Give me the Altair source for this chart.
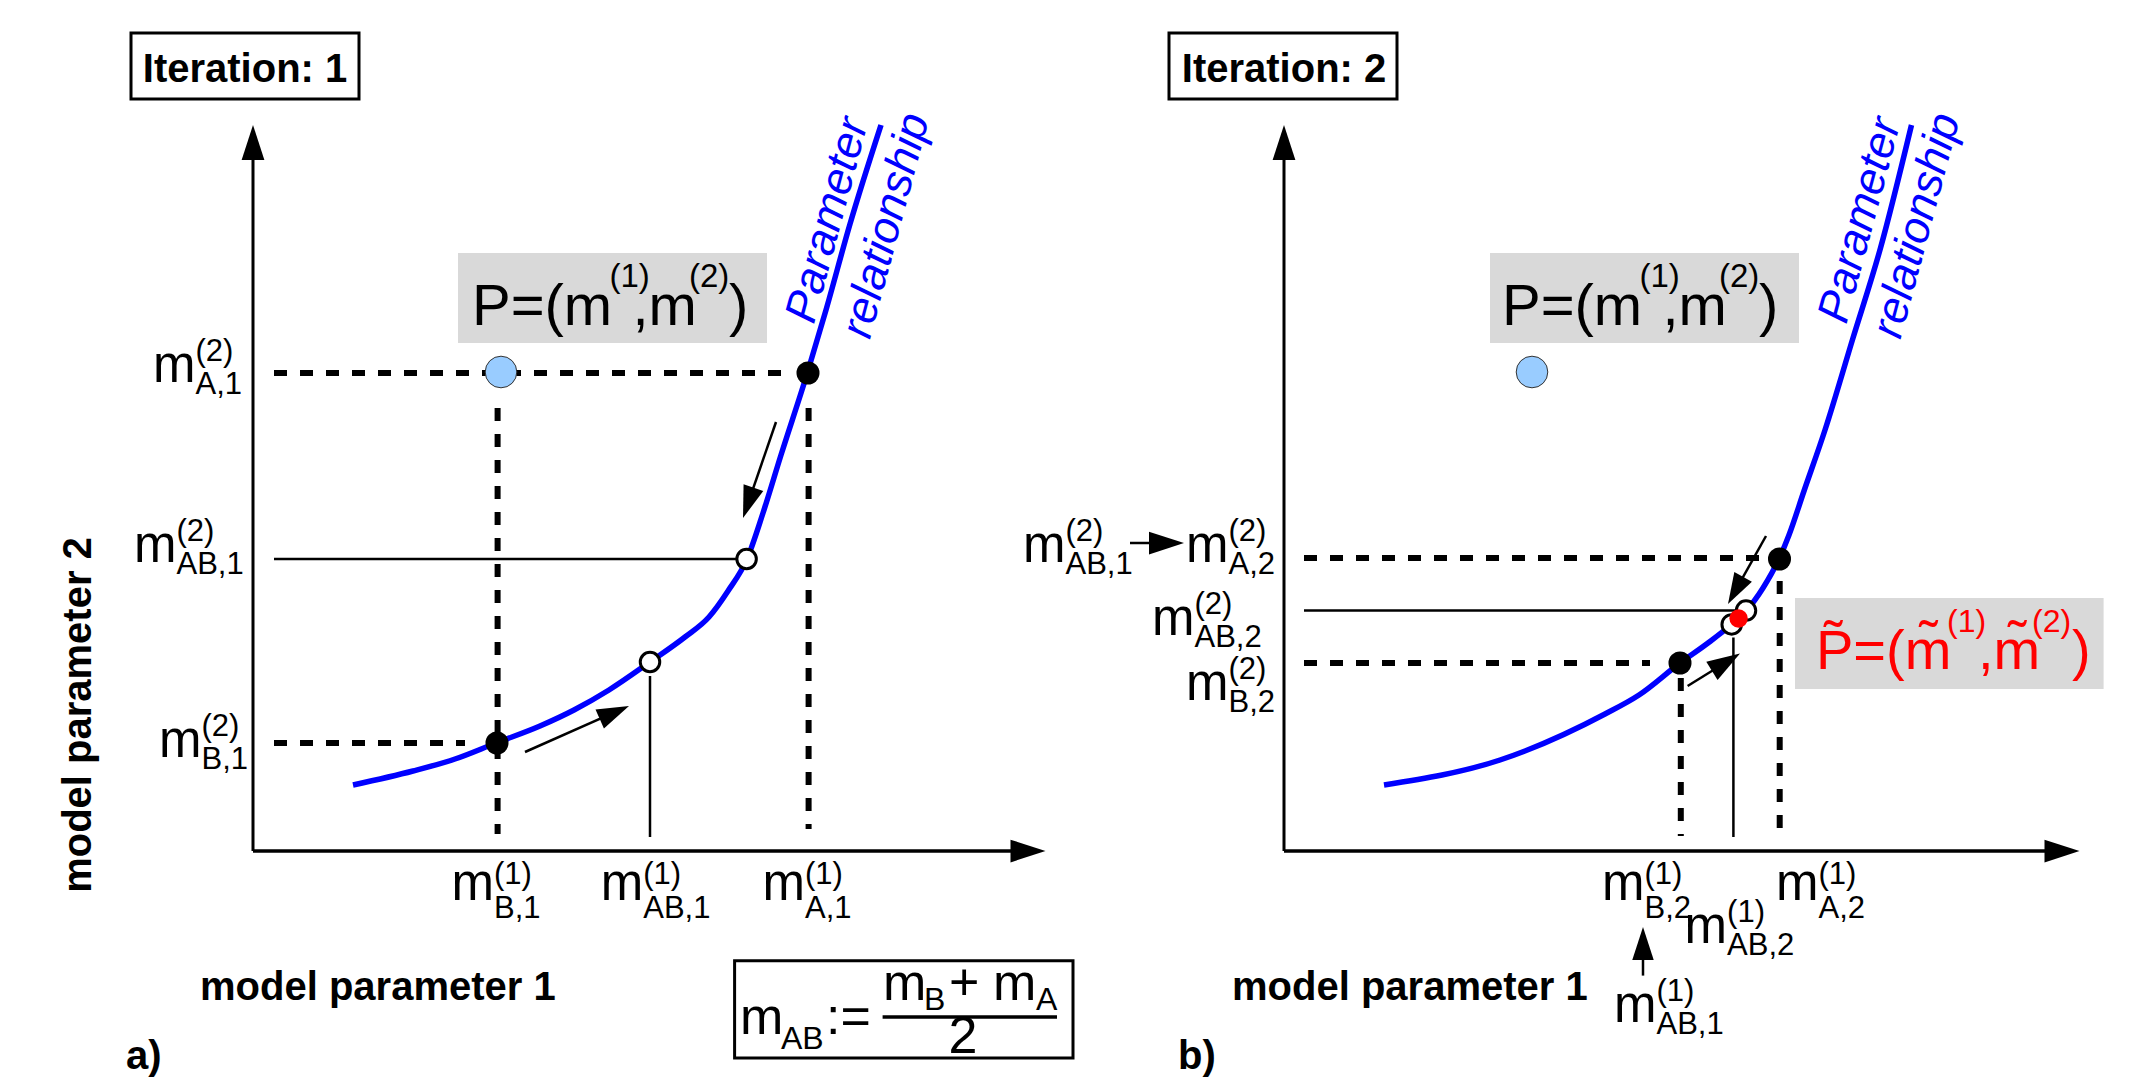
import math
import altair as alt
import pandas as pd

FONT = "Liberation Sans"
BLUE = "#0000ff"
GREY = "#d9d9d9"

# horizontal position of each panel's origin (model parameter space, px units)
PANEL_X = {"a": 0.0, "b": 1031.0}

# ---------------- parameter relationship curves (m1, m2) ----------------
curve_a_m1 = [100, 160, 202, 243, 287, 321, 356, 397, 432, 456, 475, 494, 510, 528, 554, 573, 597, 628]
curve_a_m2 = [66, 80, 92, 108, 125, 141, 161, 189, 214, 234, 260, 292, 338, 396, 477, 541, 627, 726]
curve_b_m1 = [100, 216, 321, 355, 396, 424, 448, 462, 479, 495, 505, 520, 541, 569, 596.5, 627.5]
curve_b_m2 = [66, 91, 137, 156, 188, 208, 227, 240, 263, 292, 316, 360, 421, 513, 603, 726]

# ---------------- points ----------------
pdot_panel = ["a", "b"]
pdot_m1 = [248, 248]
pdot_m2 = [479, 479]

black_panel = ["a", "a", "b", "b"]
black_m1 = [244, 555, 396, 495.5]
black_m2 = [108, 478, 188, 292]

open_panel = ["a", "a", "b", "b"]
open_m1 = [397, 493.6, 462, 447.7]
open_m2 = [189, 292, 240.4, 226.6]

red_panel = ["b"]
red_m1 = [454.6]
red_m2 = [232.5]

# ---------------- guide lines ----------------
dash_panel = ["a", "a", "a", "a", "b", "b", "b", "b"]
dash_x1 = [21, 21, 244.6, 555.6, 20, 20, 396.8, 495.7]
dash_y1 = [478, 108, 443, 443, 293, 188, 173, 270]
dash_x2 = [535, 212, 244.6, 555.6, 476, 366, 396.8, 495.7]
dash_y2 = [478, 108, 17, 22, 293, 188, 15, 15]

solid_panel = ["a", "a", "b", "b", "a"]
solid_x1 = [21, 397, 20, 449.4, 629.6]
solid_y1 = [292, 175, 240.4, 213.5, -166]
solid_x2 = [483, 397, 451, 449.4, 804]
solid_y2 = [292, 14, 240.4, 14, -166]
solid_w = [2.5, 2.5, 2.5, 2.5, 3.5]

# ---------------- arrows (start -> tip) ----------------
arrow_panel = ["a", "a", "a", "a", "b", "b", "b", "b", "b", "b"]
arrow_x0 = [0, 0, 523, 272, 0, 0, 482, 403.6, 359, -154]
arrow_y0 = [0, 0, 429, 99, 0, 0, 315, 165, -124.6, 308]
arrow_x1 = [0, 792.5, 490, 376, 0, 795.5, 444, 456, 359, -100]
arrow_y1 = [726, 0, 333, 145, 726, 0, 247, 197.4, -76, 308]
arrow_head = [35, 35, 32, 32, 35, 35, 31, 33, 33, 35]
arrow_w = [3, 3.4, 2.5, 2.5, 3, 3.4, 2.5, 2.5, 2.5, 2.5]

# ---------------- boxes ----------------
frame_panel = ["a", "b", "a"]
frame_x1 = [-122, -115, 481.6]
frame_x2 = [106, 113, 820]
frame_y1 = [752, 752, -207]
frame_y2 = [818, 818, -109.8]

grey_panel = ["a", "b", "b"]
grey_x1 = [205, 206, 511]
grey_x2 = [514, 515, 819.6]
grey_y1 = [508, 508, 162]
grey_y2 = [598, 598, 253]

# ---------------- tick labels m^(sup)_(sub) ----------------
tick_panel = ["a", "a", "a", "a", "a", "a", "b", "b", "b", "b", "b", "b", "b", "b"]
tick_x = [-100, -119, -94, 198.5, 347.7, 509.5, -261, -98, -132, -98, 318, 492, 400.6, 330]
tick_y = [469, 289, 94, -49, -49, -49, 289, 289, 216, 151, -49, -49, -92, -171]
tick_sup = ["(2)", "(2)", "(2)", "(1)", "(1)", "(1)", "(2)", "(2)", "(2)", "(2)", "(1)", "(1)", "(1)", "(1)"]
tick_sub = ["A,1", "AB,1", "B,1", "B,1", "AB,1", "A,1", "AB,1", "A,2", "AB,2", "B,2", "B,2", "A,2", "AB,2", "AB,1"]
tick_kind = ["side", "side", "side", "axis", "axis", "axis", "side", "side", "side", "side", "axis", "axis", "side", "side"]

# ---------------- point labels P and P~ ----------------
ptext_pieces = ["P=(m", "(1)", ",m", "(2)", ")"]
ptext_dx = [0, 137.5, 160.5, 217, 257]
ptext_dy = [0, 38, 0, 38, 0]
ptext_size = [58, 33, 58, 33, 58]
ptilde_pieces = ["P\u0303=(m\u0303", "(1)", ",m\u0303", "(2)", ")"]
ptilde_dx = [0, 131, 162, 216, 256]
ptilde_dy = [0, 37, 0, 37, 0]
ptilde_size = [56, 32, 56, 32, 56]

# formula m_AB := (m_B + m_A) / 2
formula_text = ["m", "AB", ":=", "m", "B", "+", "m", "A"]
formula_x = [487, 528, 573, 630, 671, 696, 740, 783]
formula_y = [-183, -198, -183, -148.7, -159, -148.7, -148.7, -159]
formula_size = [52, 32, 52, 52, 32, 52, 52, 32]

# ======================================================================
rows_text = []


def add_text(panel, x, y, text, size, color="black", weight="normal",
             style="normal", align="left", baseline="alphabetic", angle=0):
    rows_text.append(dict(gx=x + PANEL_X[panel], y=y, text=text, size=size,
                          color=color, weight=weight, style=style,
                          align=align, baseline=baseline, angle=angle))


SUB_OFF = {"side": (21, -12), "axis": (16, -18)}
for p, x, y, sp, sb, k in zip(tick_panel, tick_x, tick_y, tick_sup, tick_sub, tick_kind):
    up, dn = SUB_OFF[k]
    add_text(p, x, y, "m", 51)
    add_text(p, x + 42.5, y + up, sp, 31)
    add_text(p, x + 42.5, y + dn, sb, 31)

for p, ox in (("a", 219), ("b", 218)):
    for t, dx, dy, s in zip(ptext_pieces, ptext_dx, ptext_dy, ptext_size):
        add_text(p, ox + dx, 526 + dy, t, s)
for t, dx, dy, s in zip(ptilde_pieces, ptilde_dx, ptilde_dy, ptilde_size):
    add_text("b", 532 + dx, 182 + dy, t, s, color="#ff0000")

for t, x, y, s in zip(formula_text, formula_x, formula_y, formula_size):
    add_text("a", x, y, t, s)
add_text("a", 710, -202, "2", 52, align="center")

add_text("a", -8, 769.4, "Iteration: 1", 40, weight="bold", align="center")
add_text("b", 0, 769.4, "Iteration: 2", 40, weight="bold", align="center")
add_text("a", -162, 136, "model parameter 2", 40, weight="bold", align="center", angle=270)
add_text("a", -53, -149, "model parameter 1", 40, weight="bold")
add_text("b", -52, -149, "model parameter 1", 40, weight="bold")
add_text("a", -127, -218, "a)", 40, weight="bold")
add_text("b", -106, -218, "b)", 40, weight="bold")
for p, (x1, y1), (x2, y2) in (("a", (574.5, 631), (633, 625.5)), ("b", (576, 631), (632.6, 625.5))):
    add_text(p, x1, y1, "Parameter", 45, color=BLUE, style="italic", align="center", baseline="middle", angle=285)
    add_text(p, x2, y2, "relationship", 45, color=BLUE, style="italic", align="center", baseline="middle", angle=285)

text_df = pd.DataFrame(rows_text)

curve_df = pd.concat([
    pd.DataFrame({"panel": "a", "m1": curve_a_m1, "m2": curve_a_m2}),
    pd.DataFrame({"panel": "b", "m1": curve_b_m1, "m2": curve_b_m2}),
], ignore_index=True)
curve_df["gx"] = curve_df["m1"] + curve_df["panel"].map(PANEL_X)


def pts(panel, m1, m2):
    d = pd.DataFrame({"panel": panel, "m1": m1, "m2": m2})
    d["gx"] = d["m1"] + d["panel"].map(PANEL_X)
    return d


def segs(panel, x1, y1, x2, y2, w=None):
    d = pd.DataFrame({"panel": panel, "x1": x1, "y1": y1, "x2": x2, "y2": y2})
    d["gx"] = d["x1"] + d["panel"].map(PANEL_X)
    d["gx2"] = d["x2"] + d["panel"].map(PANEL_X)
    if w is not None:
        d["w"] = w
    return d


dash_df = segs(dash_panel, dash_x1, dash_y1, dash_x2, dash_y2)
solid_df = segs(solid_panel, solid_x1, solid_y1, solid_x2, solid_y2, solid_w)
frame_df = segs(frame_panel, frame_x1, frame_y1, frame_x2, frame_y2)
grey_df = segs(grey_panel, grey_x1, grey_y1, grey_x2, grey_y2)

shaft_rows, head_rows = [], []
for p, x0, y0, x1, y1, L, w in zip(arrow_panel, arrow_x0, arrow_y0, arrow_x1, arrow_y1, arrow_head, arrow_w):
    dx, dy = x1 - x0, y1 - y0
    d = math.hypot(dx, dy)
    ux, uy = dx / d, dy / d
    cx, cy = x1 - ux * L / 2, y1 - uy * L / 2
    off = PANEL_X[p]
    shaft_rows.append(dict(gx=x0 + off, y1=y0, gx2=cx + off, y2=cy, w=w))
    head_rows.append(dict(gx=cx + off, m2=cy, ang=math.degrees(math.atan2(dx, dy)) % 360, size=L * L))
shaft_df = pd.DataFrame(shaft_rows)
head_df = pd.DataFrame(head_rows)

xs = alt.Scale(domain=[-245, 1884], nice=False, zero=False)
ys = alt.Scale(domain=[-229, 843], nice=False, zero=False)


def X(f):
    return alt.X(f, type="quantitative", scale=xs, axis=None)


def Y(f):
    return alt.Y(f, type="quantitative", scale=ys, axis=None)


layers = []
layers.append(alt.Chart(grey_df).mark_rect(fill=GREY, strokeWidth=0).encode(
    x=X("gx"), x2="gx2", y=Y("y1"), y2="y2"))
layers.append(alt.Chart(frame_df).mark_rect(fill="white", stroke="black", strokeWidth=3).encode(
    x=X("gx"), x2="gx2", y=Y("y1"), y2="y2"))
layers.append(alt.Chart(dash_df).mark_rule(color="black", strokeWidth=6, strokeDash=[13, 13]).encode(
    x=X("gx"), x2="gx2", y=Y("y1"), y2="y2"))
layers.append(alt.Chart(solid_df).mark_rule(color="black").encode(
    x=X("gx"), x2="gx2", y=Y("y1"), y2="y2", strokeWidth=alt.StrokeWidth("w:Q", scale=None)))
layers.append(alt.Chart(shaft_df).mark_rule(color="black").encode(
    x=X("gx"), x2="gx2", y=Y("y1"), y2="y2", strokeWidth=alt.StrokeWidth("w:Q", scale=None)))
layers.append(alt.Chart(curve_df).mark_line(color=BLUE, strokeWidth=5.5, interpolate="monotone").encode(
    x=X("gx"), y=Y("m2"), detail="panel:N"))
layers.append(alt.Chart(head_df).mark_point(shape="M0,-1L-0.65,1L0.65,1Z", filled=True, color="black",
                                            opacity=1, strokeWidth=0).encode(
    x=X("gx"), y=Y("m2"), angle=alt.Angle("ang:Q", scale=None), size=alt.Size("size:Q", scale=None)))
layers.append(alt.Chart(pts(pdot_panel, pdot_m1, pdot_m2)).mark_point(
    shape="circle", filled=True, fill="#99ccff", stroke="#333333", strokeWidth=1, opacity=1, size=1000).encode(
    x=X("gx"), y=Y("m2")))
layers.append(alt.Chart(pts(black_panel, black_m1, black_m2)).mark_point(
    shape="circle", filled=True, fill="black", strokeWidth=0, opacity=1, size=530).encode(
    x=X("gx"), y=Y("m2")))
layers.append(alt.Chart(pts(open_panel, open_m1, open_m2)).mark_point(
    shape="circle", filled=True, fill="white", stroke="black", strokeWidth=3, opacity=1, size=380).encode(
    x=X("gx"), y=Y("m2")))
layers.append(alt.Chart(pts(red_panel, red_m1, red_m2)).mark_point(
    shape="circle", filled=True, fill="#ff0000", strokeWidth=0, opacity=1, size=340).encode(
    x=X("gx"), y=Y("m2")))

for (w, s, a, b), sub in text_df.groupby(["weight", "style", "align", "baseline"]):
    layers.append(alt.Chart(sub.reset_index(drop=True)).mark_text(
        font=FONT, fontWeight=w, fontStyle=s, align=a, baseline=b).encode(
        x=X("gx"), y=Y("y"), text="text:N",
        size=alt.Size("size:Q", scale=None),
        color=alt.Color("color:N", scale=None),
        angle=alt.Angle("angle:Q", scale=None)))

chart = alt.layer(*layers).properties(
    width=2129, height=1072, padding=0,
    autosize=alt.AutoSizeParams(type="none"),
).configure_view(stroke=None)

chart.save("out.html", embed_options={"renderer": "svg", "actions": False})
